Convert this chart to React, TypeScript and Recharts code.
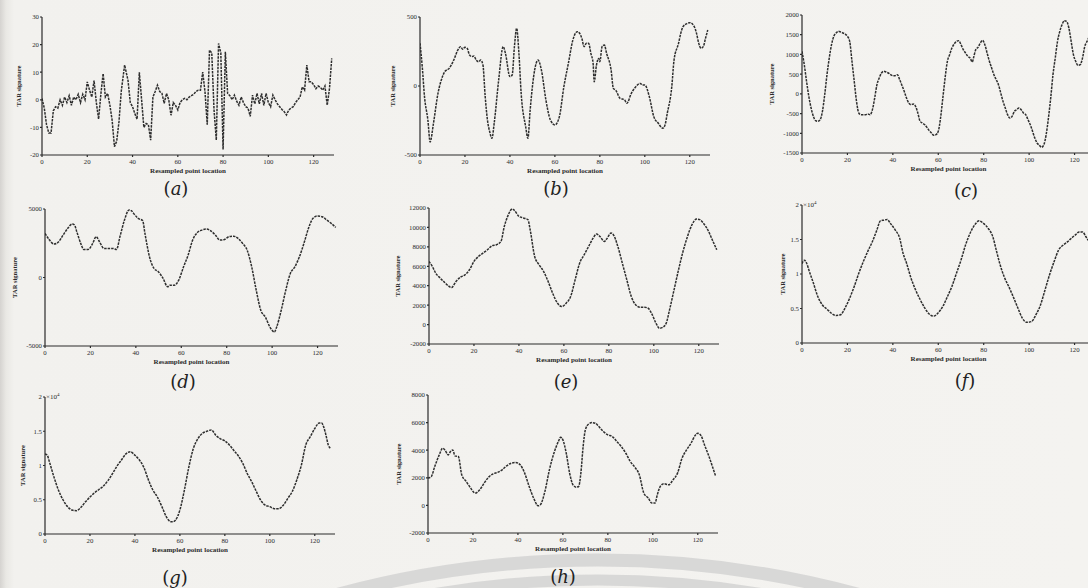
import React from 'react';
import { LineChart, Line, XAxis, YAxis } from 'recharts';

// ---------- shared axis data ----------
const xTicks = [0, 20, 40, 60, 80, 100, 120];
const xDomain: [number, number] = [0, 129];

// ---------- series (x = resampled point location, y = TAR signature) ----------
const seriesA: [number, number][] = [
  [0, 0.5], [1, -3], [2, -9], [3, -12], [4, -12], [5, -4], [6, -2.5], [7, -3], [8, 0], [9, -2], [10, 1],
  [11, -1], [12, 1.5], [13, -2], [14, 1], [15, 0], [16, 2], [17, -1], [18, 2], [19, 0], [20, 6.5],
  [21, 3.5], [22, 1], [23, 7], [24, -1], [25, -7], [26, 2], [27, 9.5], [28, 1], [29, 2.3], [30, -2],
  [31, -7.5], [32, -17], [33, -15], [34, -8], [35, 3], [36.5, 12.6], [38, 7], [39, -1], [40, -2.5],
  [41, -5], [42, -7], [43, 10], [44, 0], [45, -10], [46, -8.6], [47, -9], [48, -14.6], [49, 1], [50, 3],
  [51, 5.3], [52, 3], [53, 2.3], [54, -1.3], [55, 2.3], [56, 0], [57, -5.6], [58, -1], [59, -2], [60, -3.7],
  [61, -1], [62, 0], [63, 0.5], [64, 0], [65, 1], [66, 1.5], [67, 2], [68, 3], [69, 3.5], [70, 3.5],
  [71, 10], [72, 3], [73, -9], [74, 18], [75, 17], [76, -3.7], [77, -14.6], [78, 20.4], [79, 17], [80, -18],
  [81, 17.4], [82, 2.3], [83, 1.5], [84, 0], [85, 1.7], [86, -0.5], [87, -2], [88, 1], [89, -1], [90, -2.5],
  [91, -3], [92, -6], [93, 1.7], [94, -1.5], [95, 2.3], [96, -1.5], [97, 2.3], [98, -2], [99, 2.3], [100, -1],
  [101, -2.5], [102, 1.7], [103, 0], [104, -1.5], [105, -2.5], [106, -3.5], [107, -4.3], [108, -5.5], [109, -3.7], [110, -3],
  [111, -2.5], [112, -1], [113, 0], [114, 1], [115, 4.7], [116, 3.5], [117, 12.6], [118, 6.5], [119, 6.5], [120, 5.5],
  [121, 4], [122, 5], [123, 4.5], [124, 3.5], [125, 5], [126, -2], [127, 4], [128, 15],
];

const seriesB: [number, number][] = [
  [0, 310], [1, 140], [2, -77], [3.5, -246], [4.5, -405], [6, -270], [8, -53], [10, 68], [11, 104], [13, 128],
  [15, 188], [17, 266], [18, 285], [19, 266], [20, 280], [21, 273], [22, 225], [23, 213], [24, 217], [25, 188],
  [26, 176], [27, 188], [28, 152], [29, -77], [30, -246], [31, -331], [32, -379], [33, -270], [35, 44], [37, 285],
  [38, 237], [40, 68], [41, 80], [42, 285], [43, 418], [44, 237], [45, -53], [47, -294], [48, -379], [49, -174],
  [51, 116], [52.5, 188], [54, 116], [56, -101], [58, -246], [60, -282], [62, -222], [64, -5], [66, 164], [68, 333],
  [70, 394], [71, 382], [72, 345], [73, 285], [74, 309], [75, 309], [76, 237], [77, 164], [77.5, 31], [78.5, 152],
  [79.5, 200], [80, 176], [81, 285], [82, 297], [83, 237], [85, 116], [86, -17], [87, -29], [89, -89], [91, -101],
  [92, -125], [94, -53], [96, -5], [98, 19], [99, 7], [100, 7], [102, -77], [104, -222], [106, -270], [108, -306],
  [109, -282], [110, -198], [112, -5], [113, 188], [115, 309], [116, 382], [117, 430], [119, 454], [120, 459], [122, 430],
  [123, 382], [124, 309], [125, 273], [126, 285], [127, 345], [128, 406],
];

const seriesC: [number, number][] = [
  [0, 1078], [1, 740], [2, 318], [3, -63], [4, -359], [5, -570], [6, -680], [7, -697], [8, -655], [9, -443],
  [10, -20], [11, 487], [12, 909], [13, 1248], [14, 1459], [15, 1544], [16, 1586], [17, 1569], [18, 1544], [19, 1518],
  [20, 1459], [21, 1332], [22, 825], [23, 318], [24, -190], [25, -486], [26, -528], [27, -528], [28, -528], [29, -511],
  [30, -528], [31, -401], [32, -105], [33, 233], [34, 402], [35, 529], [36, 571], [37, 554], [38, 529], [39, 487],
  [40, 461], [41, 461], [42, 487], [43, 360], [44, 216], [45, 64], [46, -105], [47, -232], [48, -274], [49, -257],
  [50, -316], [51, -486], [52, -697], [53, -739], [54, -781], [55, -849], [56, -933], [57, -993], [58, -1052], [59, -1035],
  [60, -950], [61, -612], [62, -105], [63, 402], [64, 825], [65, 994], [66, 1163], [67, 1265], [68, 1332], [69, 1349],
  [70, 1248], [71, 1121], [72, 1036], [73, 952], [74, 909], [75, 808], [75.5, 909], [76.5, 1121], [77.5, 1180], [78.5, 1290],
  [79.5, 1357], [80.5, 1248], [81.5, 1036], [82.5, 825], [83.5, 656], [84.5, 487], [85.5, 360], [86.5, 233], [87.5, 22], [88.5, -190],
  [89.5, -359], [90.5, -528], [91.5, -612], [92.5, -570], [93.5, -443], [94.5, -401], [95.5, -359], [96.5, -401], [97.5, -486], [98.5, -528],
  [99.5, -655], [100.5, -781], [101.5, -950], [102.5, -1120], [103.5, -1246], [104.5, -1306], [105.5, -1356], [106.5, -1289], [107.5, -1035], [108.5, -612],
  [109.5, -105], [110.5, 487], [111.5, 909], [112.5, 1332], [113.5, 1586], [114.5, 1755], [115.5, 1856], [116.5, 1839], [117.5, 1670], [118.5, 1332],
  [119.5, 994], [120.5, 825], [121.5, 723], [122.5, 740], [123.5, 909], [124.5, 1205], [125.5, 1332], [126.5, 1450], [128, 1550],
];

const seriesD: [number, number][] = [
  [0, 3220], [2, 2730], [4, 2440], [6, 2610], [8, 3100], [10, 3590], [12, 3900], [13, 3830], [14, 3340], [16, 2370],
  [17, 2050], [19, 2050], [21, 2490], [22.5, 2980], [24, 2610], [26, 2120], [28, 2120], [30, 2120], [31.5, 2050], [33, 2980],
  [35, 4200], [37, 4930], [38, 4880], [39, 4680], [41, 4320], [43, 4150], [44, 3220], [46, 1510], [48, 660], [50, 410],
  [52, -70], [54, -680], [55, -560], [57, -560], [59, -150], [61, 780], [63, 1630], [65, 2730], [67, 3270], [69, 3460],
  [71, 3540], [73, 3410], [75, 3100], [77, 2730], [79, 2780], [81, 2980], [83, 3020], [85, 2850], [87, 2490], [89, 2000],
  [91, 780], [93, -930], [95, -2390], [97, -2880], [99, -3610], [100, -3850], [101, -3980], [102, -3610], [104, -2390], [106, -930],
  [108, 290], [110, 780], [112, 1510], [114, 2490], [116, 3590], [118, 4320], [120, 4490], [122, 4440], [124, 4200], [126, 3950],
  [128, 3660],
];

const seriesE: [number, number][] = [
  [0, 6500], [1.5, 5980], [3, 5290], [5, 4780], [7, 4330], [9, 3920], [10, 3810], [12, 4430], [14, 4880], [16, 5120],
  [18, 5640], [20, 6500], [22, 7010], [24, 7360], [26, 7700], [28, 8110], [30, 8220], [32, 8560], [33.5, 10110], [35, 11140],
  [37, 11900], [38, 11760], [40, 11140], [42, 10970], [44, 10800], [45, 9760], [47, 7010], [49, 6150], [51, 5460], [53, 4430],
  [55, 3230], [57, 2260], [59, 1850], [61, 2200], [63, 2880], [65, 4600], [67, 6320], [69, 7180], [71, 8040], [73, 8900],
  [74.5, 9320], [76, 9080], [78, 8560], [79, 8800], [81, 9420], [82, 9250], [84, 8040], [86, 6320], [88, 4600], [90, 2880],
  [92, 2020], [94, 1780], [96, 1780], [97.5, 1680], [99, 1160], [101, 130], [102.5, -380], [104, -280], [105.5, 130], [107, 1510],
  [109, 3570], [111, 5640], [113, 7530], [115, 9080], [117, 10280], [119, 10860], [120.5, 10800], [122, 10450], [124, 9760], [126, 8730],
  [128, 7700],
];

const seriesF: [number, number][] = [
  [0, 1.15], [1, 1.2], [2, 1.16], [3, 1.06], [5, 0.87], [7, 0.67], [9, 0.55], [11, 0.49], [13, 0.43], [15, 0.4],
  [17, 0.41], [19, 0.51], [21, 0.65], [23, 0.82], [25, 1.01], [27, 1.18], [29, 1.33], [31, 1.47], [33, 1.64], [34.5, 1.77],
  [36, 1.78], [37.5, 1.79], [39, 1.73], [41, 1.64], [43, 1.52], [44.5, 1.3], [46, 1.16], [48, 0.94], [50, 0.77], [52, 0.63],
  [54, 0.51], [56, 0.42], [58, 0.39], [60, 0.44], [62, 0.53], [64, 0.67], [66, 0.82], [68, 1.01], [70, 1.2], [72, 1.42],
  [74, 1.59], [76, 1.71], [78, 1.77], [80, 1.73], [82, 1.66], [84, 1.54], [85.5, 1.35], [87, 1.16], [89, 0.96], [91, 0.82],
  [93, 0.67], [95, 0.51], [97, 0.36], [99, 0.3], [101, 0.31], [103, 0.41], [105, 0.55], [107, 0.77], [109, 0.99], [111, 1.18],
  [113, 1.35], [115, 1.42], [117, 1.47], [119, 1.53], [120.5, 1.57], [122, 1.61], [123.5, 1.61], [125, 1.54], [126, 1.49], [128, 1.4],
];

const seriesG: [number, number][] = [
  [0, 1.17], [1, 1.15], [2, 1.05], [4, 0.83], [6, 0.64], [8, 0.5], [10, 0.4], [12, 0.35], [14, 0.34], [16, 0.39],
  [18, 0.47], [20, 0.54], [22, 0.6], [24, 0.65], [26, 0.7], [28, 0.78], [30, 0.88], [32, 0.99], [34, 1.08], [36, 1.17],
  [38, 1.2], [40, 1.15], [42, 1.08], [44, 0.97], [46, 0.79], [48, 0.64], [50, 0.54], [52, 0.4], [54, 0.25], [56, 0.18],
  [57, 0.18], [58, 0.2], [60, 0.35], [62, 0.64], [64, 0.98], [66, 1.25], [68, 1.39], [70, 1.47], [72, 1.5], [74, 1.52],
  [76, 1.44], [78, 1.39], [80, 1.36], [82, 1.3], [84, 1.22], [86, 1.14], [88, 1.03], [90, 0.88], [92, 0.76], [94, 0.62],
  [96, 0.49], [98, 0.42], [100, 0.4], [102, 0.37], [104, 0.37], [106, 0.42], [108, 0.52], [110, 0.62], [112, 0.79], [114, 1.0],
  [116, 1.3], [118, 1.42], [120, 1.54], [122, 1.62], [123, 1.62], [124, 1.56], [125, 1.44], [126, 1.3], [127, 1.25],
];

const seriesH: [number, number][] = [
  [0, 1975], [1.5, 2100], [3, 2820], [5, 3660], [6.5, 4140], [7.5, 4020], [9, 3660], [10, 3900], [11, 4020], [12, 3590],
  [13.5, 3540], [15, 2220], [17, 1730], [19, 1250], [21, 890], [23, 1130], [25, 1620], [27, 2050], [29, 2290], [31, 2390],
  [33, 2580], [35, 2870], [37, 3060], [39, 3110], [41, 2940], [43, 2340], [45, 1370], [47, 530], [49, -30], [50, 50],
  [52, 1010], [54, 2580], [56, 3780], [58, 4630], [59, 4940], [60, 4750], [61.5, 3780], [63, 2340], [64.5, 1490], [66, 1320],
  [67, 1370], [68, 2340], [69, 4260], [70, 5470], [71.5, 5900], [73, 6000], [74.5, 5950], [76, 5710], [78, 5350], [80, 5110],
  [82, 4990], [84, 4630], [86, 4260], [88, 3780], [90, 3180], [92, 2770], [94, 2220], [96, 890], [98, 530], [99.5, 170],
  [101, 170], [102, 770], [103.5, 1420], [105, 1570], [107, 1490], [109, 1850], [111, 2340], [113, 3420], [115, 4020], [117, 4510],
  [119, 5110], [120, 5230], [121.5, 5040], [123, 4380], [125, 3540], [127, 2580], [128, 2100],
];

// ---------- y tick values ----------
const ticksA = [-20, -10, 0, 10, 20, 30];
const ticksB = [-500, 0, 500];
const ticksC = [-1500, -1000, -500, 0, 500, 1000, 1500, 2000];
const ticksD = [-5000, 0, 5000];
const ticksE = [-2000, 0, 2000, 4000, 6000, 8000, 10000, 12000];
const ticksFG = [0, 0.5, 1, 1.5, 2];
const ticksH = [-2000, 0, 2000, 4000, 6000, 8000];

const captions = ['a', 'b', 'c', 'd', 'e', 'f', 'g', 'h'];

type PanelCfg = {
  points: [number, number][];
  left: number; top: number; width: number; height: number;
  yDomain: [number, number]; yTicks: number[];
  yLabelDist: number; curve: 'linear' | 'monotone'; exp?: boolean;
  cap: { x: number; y: number };
};

const panels: PanelCfg[] = [
  { points: seriesA, left: 42, top: 17, width: 292, height: 138, yDomain: [-20, 30], yTicks: ticksA, yLabelDist: 23, curve: 'linear', cap: { x: 176, y: 188 } },
  { points: seriesB, left: 420, top: 17, width: 290, height: 138, yDomain: [-500, 500], yTicks: ticksB, yLabelDist: 27, curve: 'monotone', cap: { x: 556, y: 188 } },
  { points: seriesC, left: 802, top: 15, width: 293, height: 138, yDomain: [-1500, 2000], yTicks: ticksC, yLabelDist: 30, curve: 'monotone', cap: { x: 966, y: 190 } },
  { points: seriesD, left: 45, top: 209, width: 293, height: 137, yDomain: [-5000, 5000], yTicks: ticksD, yLabelDist: 30, curve: 'monotone', cap: { x: 183, y: 381 } },
  { points: seriesE, left: 429, top: 208, width: 290, height: 136, yDomain: [-2000, 12000], yTicks: ticksE, yLabelDist: 31, curve: 'monotone', cap: { x: 566, y: 381 } },
  { points: seriesF, left: 802, top: 205, width: 293, height: 138, yDomain: [0, 2], yTicks: ticksFG, yLabelDist: 19, curve: 'monotone', exp: true, cap: { x: 965, y: 380 } },
  { points: seriesG, left: 45, top: 397, width: 290, height: 137, yDomain: [0, 2], yTicks: ticksFG, yLabelDist: 22, curve: 'monotone', exp: true, cap: { x: 175, y: 577 } },
  { points: seriesH, left: 428, top: 395, width: 290, height: 138, yDomain: [-2000, 8000], yTicks: ticksH, yLabelDist: 29, curve: 'monotone', cap: { x: 563, y: 576 } },
];

const FONT = '"Liberation Serif", "Times New Roman", serif';
const INK = '#2b2b2b';

function Panel({ cfg }: { cfg: PanelCfg }) {
  const YW = 40, MT = 8, MR = 8, XH = 30;
  const data = cfg.points.map(([x, y]) => ({ x, y }));
  return (
    <div style={{ position: 'absolute', left: cfg.left - YW, top: cfg.top - MT }}>
      <LineChart
        width={cfg.width + YW + MR}
        height={cfg.height + MT + XH}
        data={data}
        margin={{ top: MT, right: MR, bottom: 0, left: 0 }}
      >
        <XAxis
          dataKey="x"
          type="number"
          domain={xDomain}
          ticks={xTicks}
          interval={0}
          allowDataOverflow
          height={XH}
          stroke={INK}
          strokeWidth={1.2}
          tickSize={2}
          tickMargin={2}
          tick={{ fontSize: 6.8, fill: INK, fontFamily: FONT }}
          label={{
            value: 'Resampled point location',
            position: 'insideTop',
            offset: 13,
            fill: INK,
            fontSize: 7,
            fontWeight: 700,
            fontFamily: FONT,
          }}
        />
        <YAxis
          type="number"
          domain={cfg.yDomain}
          ticks={cfg.yTicks}
          interval={0}
          allowDataOverflow
          width={YW}
          stroke={INK}
          strokeWidth={1.2}
          tickSize={2}
          tickMargin={1}
          tick={{ fontSize: 6.8, fill: INK, fontFamily: FONT }}
          label={{
            value: 'TAR signature',
            angle: -90,
            position: 'insideLeft',
            offset: YW - cfg.yLabelDist,
            fill: INK,
            fontSize: 6.5,
            fontWeight: 700,
            fontFamily: FONT,
            style: { textAnchor: 'middle' },
          }}
        />
        <Line
          type={cfg.curve}
          dataKey="y"
          stroke="#2e2e2e"
          strokeWidth={1.5}
          strokeDasharray="2.5 1"
          dot={false}
          isAnimationActive={false}
        />
      </LineChart>
    </div>
  );
}

export default function App() {
  return (
    <div
      style={{
        position: 'absolute',
        left: 0,
        top: 0,
        width: 1088,
        height: 588,
        overflow: 'hidden',
        background: 'linear-gradient(to right, #d5d3d0 0px, #e9e8e4 6px, #f2f1ee 14px, #f4f3f0 100%)',
      }}
    >
      <svg width={1088} height={588} style={{ position: 'absolute', left: 0, top: 0 }}>
        <circle cx={598} cy={1560} r={1000} fill="none" stroke="#cfcfcf" strokeOpacity={0.75} strokeWidth={13} />
        <circle cx={598} cy={1560} r={980} fill="none" stroke="#cfcfcf" strokeOpacity={0.75} strokeWidth={11} />
      </svg>
      {panels.map((p, i) => (
        <React.Fragment key={i}>
          <Panel cfg={p} />
          {p.exp && (
            <div
              style={{
                position: 'absolute',
                left: p.left + 1,
                top: p.top - 6,
                fontFamily: FONT,
                fontSize: 7,
                color: INK,
                lineHeight: '8px',
                whiteSpace: 'nowrap',
              }}
            >
              ×10<sup style={{ fontSize: 5 }}>4</sup>
            </div>
          )}
          <div
            style={{
              position: 'absolute',
              left: p.cap.x,
              top: p.cap.y,
              transform: 'translate(-50%, -50%)',
              fontFamily: '"DejaVu Serif", serif',
              fontSize: 18,
              color: '#222',
              whiteSpace: 'nowrap',
            }}
          >
            (<i>{captions[i]}</i>)
          </div>
        </React.Fragment>
      ))}
    </div>
  );
}
